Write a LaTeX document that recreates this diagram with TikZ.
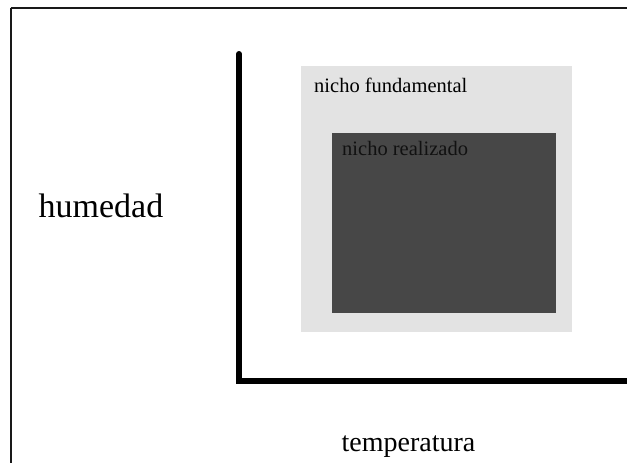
\documentclass[tikz,border=0pt]{standalone}
\usepackage{fontspec}
\setmainfont{Liberation Serif}
\definecolor{fundcol}{HTML}{E3E3E3}
\definecolor{realcol}{HTML}{474747}
\definecolor{realtext}{HTML}{111111}
\begin{document}
\begin{tikzpicture}[x=1pt,y=-1pt,
  axis/.style={line width=6pt,line cap=round},
  frame/.style={draw=black!90,line width=2pt},
  bigtext/.style={inner sep=0pt,anchor=base},
  smalltext/.style={font=\fontsize{20.5}{24}\selectfont,inner sep=0pt,anchor=base west}]
\useasboundingbox (0,0) rectangle (627,463);
\draw[frame] (10.5,7.5) -- (10.5,470);
\draw[frame] (10.5,7.5) -- (640,7.5);
\node[fill=fundcol,minimum width=271pt,minimum height=266pt,anchor=north west,inner sep=0pt] (fund) at (301,66) {};
\node[fill=realcol,minimum width=224pt,minimum height=180pt,anchor=north west,inner sep=0pt] (real) at (332,133) {};
\node[smalltext] (fundlbl) at (314,92) {nicho fundamental};
\node[smalltext,text=realtext] (reallbl) at (342,155) {nicho realizado};
\coordinate (top) at (239,54);
\coordinate (origin) at (239,381);
\coordinate (right) at (630,381);
\draw[axis] (top) -- (origin) -- (right);
\node[bigtext,font=\fontsize{34}{40}\selectfont] (hum) at (101,217) {humedad};
\node[bigtext,font=\fontsize{28}{32}\selectfont] (temp) at (408.5,451) {temperatura};
\end{tikzpicture}
\end{document}
